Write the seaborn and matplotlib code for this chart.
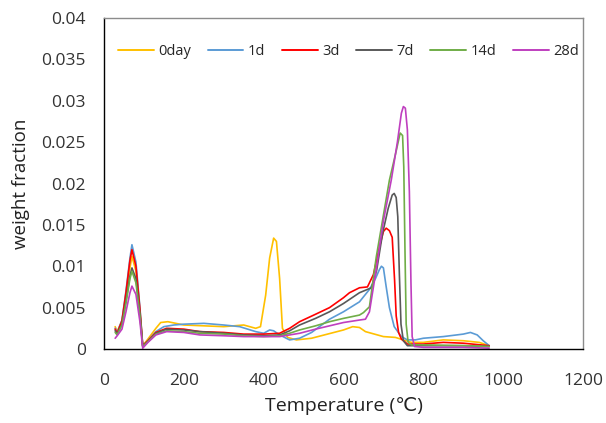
import matplotlib
matplotlib.use("Agg")
import matplotlib.pyplot as plt
import seaborn as sns
import pandas as pd

# ---------------- data ----------------
series_names = ["0day", "1d", "3d", "7d", "14d", "28d"]
colors = ["#FFC000", "#5B9BD5", "#FF0000", "#595959", "#70AD47", "#BF3FBF"]

t_0day = [28, 33, 45, 55, 65, 70, 80, 90, 97, 110, 130, 142, 160, 200, 250, 300, 350, 380, 392,
          405, 415, 425, 432, 440, 447, 460, 482, 520, 560, 600, 623, 640, 655, 670, 700, 730, 770,
          800, 850, 900, 940, 965]
y_0day = [0.0027, 0.0021, 0.0034, 0.0063, 0.0098, 0.0112, 0.0094, 0.0045, 0.0004, 0.0012, 0.0025,
          0.0032, 0.0033, 0.0029, 0.0028, 0.0027, 0.0029, 0.0025, 0.0027, 0.0065, 0.0110, 0.0134,
          0.0130, 0.0085, 0.0025, 0.0014, 0.0011, 0.0013, 0.0018, 0.0023, 0.0027, 0.0026, 0.0021,
          0.0019, 0.0015, 0.0014, 0.0008, 0.0008, 0.0011, 0.0010, 0.0008, 0.0004]

t_1d = [28, 33, 45, 55, 65, 70, 80, 90, 97, 110, 130, 150, 175, 200, 250, 300, 340, 380, 400, 415,
        425, 440, 465, 490, 520, 565, 600, 640, 665, 680, 690, 695, 700, 707, 715, 727, 745, 760,
        780, 800, 850, 900, 918, 935, 950, 965]
y_1d = [0.0025, 0.0020, 0.0035, 0.0070, 0.0110, 0.0126, 0.0105, 0.0050, 0.0004, 0.0010, 0.0021,
        0.0027, 0.0029, 0.0030, 0.0031, 0.0029, 0.0027, 0.0021, 0.0019, 0.0023, 0.0022, 0.0017,
        0.0011, 0.0013, 0.0020, 0.0036, 0.0045, 0.0057, 0.0072, 0.0085, 0.0096, 0.0100, 0.0098,
        0.0075, 0.0050, 0.0027, 0.0015, 0.0011, 0.0011, 0.0013, 0.0015, 0.0018, 0.0020, 0.0017,
        0.0010, 0.0004]

t_3d = [28, 33, 45, 55, 65, 70, 80, 90, 97, 110, 130, 157, 200, 240, 300, 350, 400, 440, 465, 490,
        530, 565, 600, 615, 640, 660, 675, 690, 700, 707, 715, 722, 728, 732, 738, 745, 760, 800,
        850, 900, 965]
y_3d = [0.0024, 0.0019, 0.0034, 0.0068, 0.0107, 0.0120, 0.0100, 0.0048, 0.0004, 0.0010, 0.0020,
        0.0025, 0.0024, 0.0021, 0.0020, 0.0018, 0.0018, 0.0019, 0.0025, 0.0033, 0.0042, 0.0050,
        0.0062, 0.0068, 0.0074, 0.0075, 0.0090, 0.0123, 0.0142, 0.0146, 0.0143, 0.0135, 0.0083,
        0.0040, 0.0020, 0.0012, 0.0006, 0.0006, 0.0008, 0.0007, 0.0004]

t_7d = [28, 33, 45, 55, 65, 70, 80, 90, 97, 110, 130, 157, 200, 240, 300, 350, 400, 440, 465, 490,
        530, 565, 600, 640, 670, 683, 698, 712, 722, 727, 732, 736, 740, 744, 750, 760, 800, 900, 965]
y_7d = [0.0022, 0.0018, 0.0030, 0.0058, 0.0088, 0.0098, 0.0085, 0.0042, 0.0003, 0.0009, 0.0019,
        0.0024, 0.0023, 0.0021, 0.0019, 0.0017, 0.0016, 0.0017, 0.0022, 0.0029, 0.0037, 0.0045,
        0.0055, 0.0068, 0.0074, 0.0095, 0.0140, 0.0170, 0.0186, 0.0188, 0.0183, 0.0160, 0.0090,
        0.0030, 0.0010, 0.0004, 0.0004, 0.0004, 0.0003]

t_14d = [28, 33, 45, 55, 65, 70, 80, 90, 97, 110, 130, 157, 200, 240, 300, 350, 400, 440, 465, 490,
         530, 565, 600, 640, 650, 665, 682, 698, 715, 730, 742, 748, 751, 754, 757, 762, 770, 800,
         900, 965]
y_14d = [0.0020, 0.0017, 0.0029, 0.0055, 0.0085, 0.0094, 0.0080, 0.0040, 0.0003, 0.0009, 0.0018,
         0.0022, 0.0021, 0.0019, 0.0018, 0.0016, 0.0015, 0.0016, 0.0019, 0.0023, 0.0028, 0.0033,
         0.0037, 0.0041, 0.0044, 0.0051, 0.0111, 0.0156, 0.0204, 0.0235, 0.0261, 0.0258, 0.0220,
         0.0120, 0.0030, 0.0008, 0.0005, 0.0005, 0.0004, 0.0003]

t_28d = [28, 33, 45, 55, 65, 70, 80, 90, 97, 110, 130, 157, 200, 240, 300, 350, 400, 440, 465, 490,
         530, 565, 600, 640, 655, 665, 680, 700, 720, 735, 745, 750, 755, 760, 765, 769, 772, 778,
         800, 900, 965]
y_28d = [0.0013, 0.0016, 0.0024, 0.0045, 0.0068, 0.0076, 0.0066, 0.0033, 0.0001, 0.0008, 0.0017,
         0.0021, 0.0020, 0.0017, 0.0016, 0.0015, 0.0015, 0.0015, 0.0017, 0.0019, 0.0024, 0.0028,
         0.0032, 0.0035, 0.0036, 0.0045, 0.0090, 0.0155, 0.0205, 0.0250, 0.0285, 0.0293, 0.0291,
         0.0265, 0.0190, 0.0080, 0.0015, 0.0003, 0.0002, 0.0002, 0.0001]

x_ticks = [0, 200, 400, 600, 800, 1000, 1200]
y_ticks = [0, 0.005, 0.01, 0.015, 0.02, 0.025, 0.03, 0.035, 0.04]
y_tick_labels = ["0", "0.005", "0.01", "0.015", "0.02", "0.025", "0.03", "0.035", "0.04"]

# ---------------- build long table ----------------
all_t = [t_0day, t_1d, t_3d, t_7d, t_14d, t_28d]
all_y = [y_0day, y_1d, y_3d, y_7d, y_14d, y_28d]
frames = []
for name, ts, ys in zip(series_names, all_t, all_y):
    frames.append(pd.DataFrame({"T": ts, "w": ys, "series": name}))
df = pd.concat(frames, ignore_index=True)

sns.set_theme(style="white")
plt.rcParams["font.family"] = ["Open Sans", "DejaVu Sans"]

fig = plt.figure(figsize=(6.06, 4.23), dpi=100)
ax = fig.add_axes([104 / 606, 74 / 423, 479 / 606, 331 / 423])

sns.lineplot(data=df, x="T", y="w", hue="series", hue_order=series_names,
             palette=colors, estimator=None, sort=False, linewidth=1.2, ax=ax)

ax.set_xlim(0, 1200)
ax.set_ylim(0, 0.04)
ax.set_xticks(x_ticks)
ax.set_xticklabels([str(v) for v in x_ticks])
ax.set_yticks(y_ticks)
ax.set_yticklabels(y_tick_labels)
ax.tick_params(axis="both", length=0, labelsize=12.5, colors="#333333")
ax.tick_params(axis="y", pad=13)
ax.tick_params(axis="x", pad=17)

ax.set_xlabel("Temperature (℃)", fontsize=14, color="#222222", labelpad=6)
ax.set_ylabel("weight fraction", fontsize=13.5, color="#222222", labelpad=8)

for side in ["top", "right"]:
    ax.spines[side].set_color("#8c8c8c")
    ax.spines[side].set_linewidth(1.0)
for side in ["left", "bottom"]:
    ax.spines[side].set_color("#000000")
    ax.spines[side].set_linewidth(1.0)

leg = ax.legend(loc="center", bbox_to_anchor=(0.51, 0.898), ncol=6, frameon=False,
                fontsize=10.5, handlelength=2.45, handletextpad=0.3, columnspacing=1.15)
for line in leg.get_lines():
    line.set_linewidth(1.4)

fig.savefig("out.png", dpi=100)
